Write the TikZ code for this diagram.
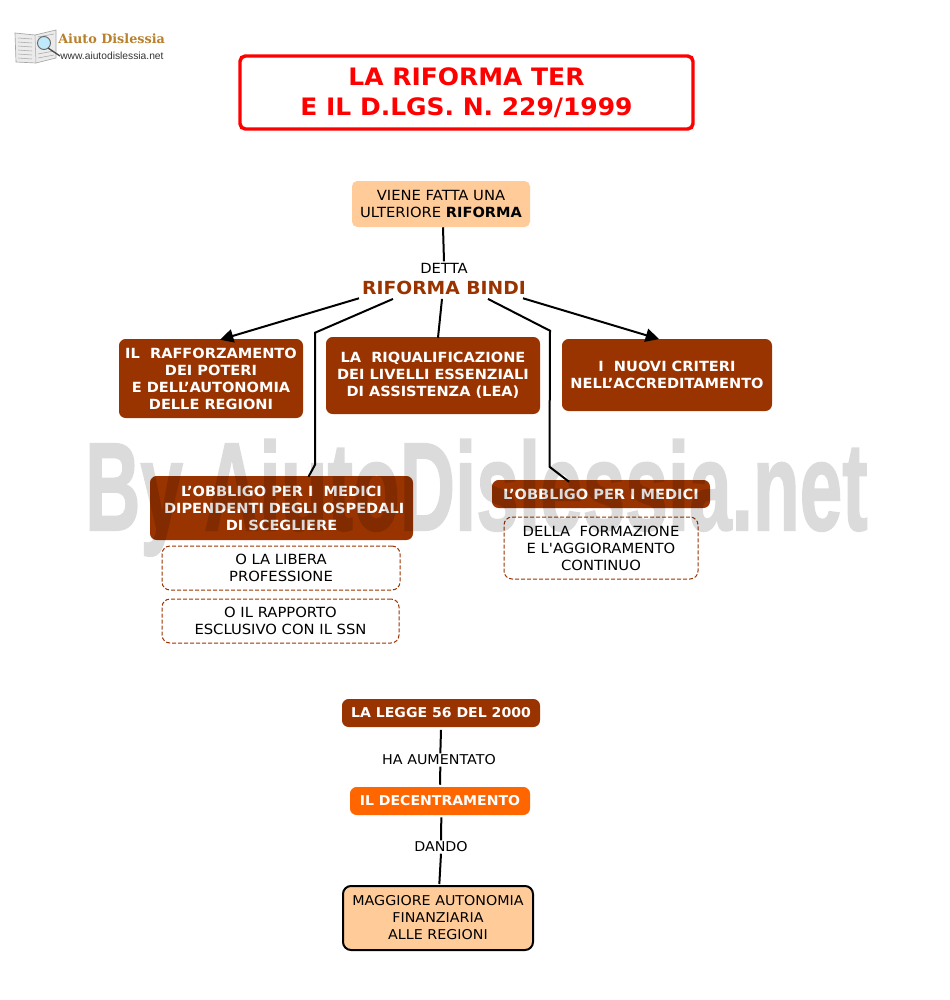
\documentclass[tikz,border=0pt]{standalone}
\usepackage{fontspec}
\usepackage{graphicx}
\setmainfont[FakeStretch=1.055,BoldFeatures={FakeStretch=1.04}]{DejaVu Sans}
\newfontfamily\plainfont[FakeStretch=1.055]{DejaVu Sans}
\newfontfamily\logofont{Liberation Sans}
\newfontfamily\logoserif{DejaVu Serif}
\newfontfamily\markfont[FakeBold=1.6]{Liberation Sans Bold}
\usetikzlibrary{arrows.meta,calc}
\definecolor{brick}{HTML}{993300}
\definecolor{peach}{HTML}{FFCC99}
\definecolor{vivid}{HTML}{FF6600}
\definecolor{titlered}{HTML}{FF0000}
\definecolor{logogold}{HTML}{B8802A}
\tikzset{
  x=0.75pt,y=-0.75pt,
  txt/.style={inner sep=0pt,align=center,font=\fontsize{10.5}{12.75}\selectfont},
  smalltxt/.style={font=\fontsize{10.15}{12.75}\selectfont},
  brickbox/.style={txt,fill=brick,draw=none,rounded corners=5pt,text=white,font=\fontsize{10.5}{12.75}\selectfont\bfseries},
  smallbold/.style={font=\fontsize{10.15}{12.75}\selectfont\bfseries},
  peachbox/.style={txt,fill=peach,rounded corners=4pt,text=black},
  dashbox/.style={txt,draw=brick,dash pattern=on 3pt off 1.5pt,line width=0.75pt,rounded corners=6pt,fill=white,text=black},
  link/.style={draw=black,line width=1.5pt},
  arrowlink/.style={link,-{Triangle[length=10pt,width=10pt]}},
  booklines/.style={gray!70,line width=0.4pt},
}
\begin{document}
\begin{tikzpicture}
\useasboundingbox (0,0) rectangle (950,1000);
\fill[white] (0,0) rectangle (950,1000);
% logo
\fill[black!8,draw=gray!70,line width=0.5pt] (15,33) -- (35,35) -- (56,30) -- (56,58) -- (36,63) -- (16,62) -- cycle;
\draw[booklines] (35,35) -- (36,63);
\draw[booklines] (18,38) -- (32,39) (18,42) -- (32,43) (18,46) -- (32,47) (18,50) -- (32,51) (18,54) -- (32,55) (18,58) -- (32,59);
\draw[booklines] (38,37) -- (54,34) (38,54) -- (54,51) (38,58) -- (54,55);
\fill[cyan!25,draw=gray!80!black,line width=0.7pt] (44,43) circle (6.5);
\draw[black!70,line width=1pt] (48,48) -- (60,56);
\node[anchor=west,inner sep=0pt,text=logogold,font=\fontsize{9.6}{9.6}\selectfont\logoserif\bfseries] (logoa) at (58,39) {Aiuto Dislessia};
\node[anchor=west,inner sep=0pt,text=black!80,font=\fontsize{7.7}{8}\selectfont\logofont] (logob) at (60,56) {www.aiutodislessia.net};
% title
\node[draw=titlered,line width=2.6pt,rounded corners=4pt,fill=white,text=titlered,inner sep=0pt,align=center,
  minimum width=339.75pt,minimum height=54.75pt,font=\fontsize{18}{22.5}\selectfont\bfseries] (title) at (466.5,92.5) {LA RIFORMA TER\\E IL D.LGS. N. 229/1999};
% main tree
\node[peachbox,minimum width=133.5pt,minimum height=34.5pt] (top) at (441,204) {VIENE FATTA UNA\\ULTERIORE \textbf{RIFORMA}};
\node[txt] (detta) at (444,268) {DETTA};
\node[txt,text=brick,font=\fontsize{13.5}{15}\selectfont\bfseries,minimum width=123pt,minimum height=18pt] (bindi) at (444,288) {RIFORMA BINDI};
\node[brickbox,minimum width=138pt,minimum height=59.25pt] (poteri) at (211,378.5) {IL\ \ RAFFORZAMENTO\\DEI POTERI\\E DELL’AUTONOMIA\\DELLE REGIONI};
\node[brickbox,minimum width=160.5pt,minimum height=57.75pt] (lea) at (433,375.5) {LA\ \ RIQUALIFICAZIONE\\DEI LIVELLI ESSENZIALI\\DI ASSISTENZA (LEA)};
\node[brickbox,minimum width=157.5pt,minimum height=54pt] (criteri) at (667,375) {I\ \ NUOVI CRITERI\\NELL’ACCREDITAMENTO};
\node[brickbox,minimum width=197.25pt,minimum height=48pt] (osp) at (281.5,508) {L’OBBLIGO PER I\ \ MEDICI\\\hspace*{4pt}DIPENDENTI DEGLI OSPEDALI\\DI SCEGLIERE};
\node[brickbox,minimum width=163.5pt,minimum height=21pt] (med) at (601,494) {L’OBBLIGO PER I MEDICI};
\node[dashbox,minimum width=178.5pt,minimum height=33pt] (libera) at (281,568) {O LA LIBERA\\PROFESSIONE};
\node[dashbox,minimum width=177.75pt,minimum height=33pt] (ssn) at (280.5,621) {O IL RAPPORTO\\ESCLUSIVO CON IL SSN};
\node[dashbox,minimum width=145.5pt,minimum height=46.5pt] (form) at (601,548) {DELLA\ \ FORMAZIONE\\E L{\plainfont'}AGGIORAMENTO\\CONTINUO};
% lower chain
\node[brickbox,smallbold,minimum width=148.5pt,minimum height=21pt] (legge) at (441,713) {LA LEGGE 56 DEL 2000};
\node[txt,smalltxt] (aument) at (439,760) {HA AUMENTATO};
\node[brickbox,smallbold,fill=vivid,minimum width=135pt,minimum height=21pt] (dec) at (440,801) {IL DECENTRAMENTO};
\node[txt,smalltxt] (dando) at (441,847) {DANDO};
\node[peachbox,smalltxt,draw=black,line width=1.5pt,rounded corners=6pt,minimum width=142.5pt,minimum height=48pt] (auto) at (438,918) {MAGGIORE AUTONOMIA\\FINANZIARIA\\ALLE REGIONI};
% connectors
\draw[link] ([xshift=1.5pt]top.south) -- ([yshift=1pt]detta.north);
\draw[arrowlink] ([xshift=-63.75pt,yshift=1.5pt]bindi.south) -- ([xshift=6.75pt,yshift=-0.75pt]poteri.north);
\draw[link] ([xshift=-38.25pt,yshift=1pt]bindi.south) -- ($(osp.north)+(33.5,-143)$) -- ($(osp.north)+(33.5,-11)$) -- ([xshift=20.25pt,yshift=-0.75pt]osp.north);
\draw[link] ([xshift=-1.5pt,yshift=1pt]bindi.south) -- ([xshift=3.75pt,yshift=-0.75pt]lea.north);
\draw[link] ([xshift=33pt,yshift=1pt]bindi.south) -- ($(med.north)+(-51,-149)$) -- ($(med.north)+(-51.5,-13)$) -- ([xshift=-24pt,yshift=-1.5pt]med.north);
\draw[arrowlink] ([xshift=59.25pt,yshift=1.5pt]bindi.south) -- ([xshift=-6pt,yshift=-0.25pt]criteri.north);
\draw[link] ([yshift=-2pt]legge.south) -- ([xshift=1pt,yshift=1pt]aument.north);
\draw[link] ([xshift=1pt,yshift=-1pt]aument.south) -- ([yshift=1.5pt]dec.north);
\draw[link] ([xshift=1pt,yshift=-1.5pt]dec.south) -- ([yshift=1pt]dando.north);
\draw[link] ([yshift=-1pt]dando.south) -- ([xshift=1pt,yshift=0.75pt]auto.north);
% watermark
\begin{scope}[transparency group,opacity=0.14]
\node[inner sep=0pt,anchor=base,text=black] (mark) at (476.5,530) {\resizebox{587pt}{68pt}{\markfont By AiutoDislessia.net}};
\end{scope}
\end{tikzpicture}
\end{document}
